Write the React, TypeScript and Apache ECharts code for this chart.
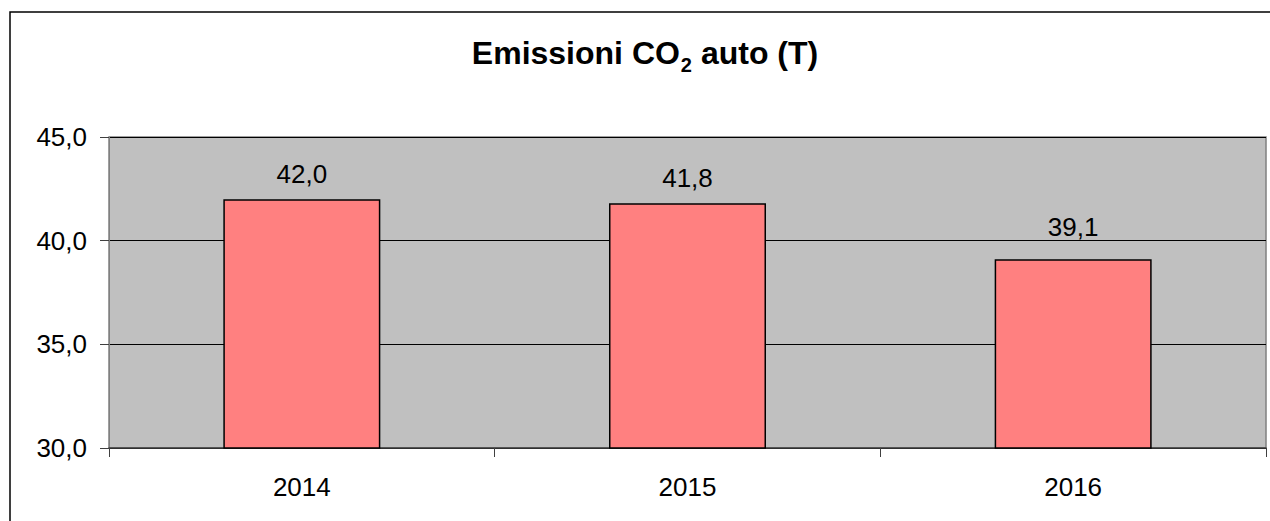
import React, { useEffect, useRef } from "react";
import * as echarts from "echarts";

const categories = ["2014", "2015", "2016"];
const emissions = [42.0, 41.8, 39.1];
const yMin = 30;
const yMax = 45;
const yStep = 5;

const fmt = (v: number) => v.toFixed(1).replace(".", ",");

export default function App() {
  const ref = useRef<HTMLDivElement>(null);
  useEffect(() => {
    if (!ref.current) return;
    const chart = echarts.init(ref.current, undefined, { renderer: "svg" });
    const font = "'Liberation Sans', Arial, Helvetica, sans-serif";
    chart.setOption({
      animation: false,
      backgroundColor: "#ffffff",
      textStyle: { fontFamily: font },
      title: {
        text: "{a|Emissioni CO}{s|2}{a| auto (T)}",
        left: 640,
        textAlign: "center",
        top: 30,
        textStyle: {
          rich: {
            a: { fontFamily: font, fontWeight: "bold", fontSize: 32, color: "#000", lineHeight: 36 },
            s: { fontFamily: font, fontWeight: "bold", fontSize: 20, color: "#000", lineHeight: 36, padding: [24, 0, 0, 1] },
          },
        },
      },
      graphic: [
        {
          type: "rect",
          shape: { x: 10, y: 12, width: 1400, height: 700 },
          style: { fill: "none", stroke: "#000", lineWidth: 1.5 },
          silent: true,
          z: -1,
        },
      ],
      grid: {
        left: 109,
        right: 4,
        top: 137,
        bottom: 73,
        show: true,
        backgroundColor: "#C0C0C0",
        borderColor: "#808080",
        borderWidth: 1.5,
      },
      xAxis: {
        type: "category",
        data: categories,
        axisLine: { show: true, lineStyle: { color: "#404040", width: 1.5 } },
        axisTick: { show: true, length: 9, lineStyle: { color: "#404040", width: 1 } },
        axisLabel: { color: "#000", fontSize: 26, margin: 26, fontFamily: font },
      },
      yAxis: {
        type: "value",
        min: yMin,
        max: yMax,
        interval: yStep,
        axisLine: { show: true, lineStyle: { color: "#808080", width: 1 } },
        axisTick: { show: true, length: 9, lineStyle: { color: "#404040", width: 1 } },
        axisLabel: { color: "#000", fontSize: 26, margin: 22, fontFamily: font, formatter: (v: number) => fmt(v) },
        splitLine: { show: true, lineStyle: { color: "#000", width: 1 } },
      },
      series: [
        {
          type: "bar",
          data: emissions.map((v, i) => (i === 2 ? { value: v, label: { distance: 19 } } : v)),
          barWidth: 157,
          itemStyle: { color: "#FF8080", borderColor: "#000", borderWidth: 1.5 },
          label: {
            show: true,
            position: "top",
            distance: 12,
            color: "#000",
            fontSize: 26,
            fontFamily: font,
            formatter: (p: any) => fmt(p.value),
          },
        },
      ],
    });
    return () => chart.dispose();
  }, []);
  return (
    <div
      ref={ref}
      style={{ position: "absolute", left: 0, top: 0, width: 1270, height: 521 }}
    />
  );
}
